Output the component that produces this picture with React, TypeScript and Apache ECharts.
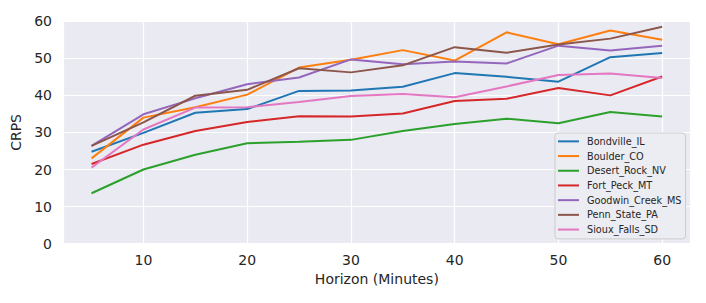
import React, { useEffect, useRef } from "react";
import * as echarts from "echarts";

const horizons = [5, 10, 15, 20, 25, 30, 35, 40, 45, 50, 55, 60];
const seriesNames = [
  "Bondville_IL",
  "Boulder_CO",
  "Desert_Rock_NV",
  "Fort_Peck_MT",
  "Goodwin_Creek_MS",
  "Penn_State_PA",
  "Sioux_Falls_SD",
];
const bondville = [24.8, 29.9, 35.3, 36.3, 41.2, 41.3, 42.3, 46.0, 45.0, 43.7, 50.3, 51.4];
const boulder = [23.0, 34.0, 36.8, 40.2, 47.5, 49.6, 52.2, 49.4, 57.0, 53.8, 57.5, 55.0];
const desertRock = [13.6, 20.0, 24.0, 27.1, 27.5, 28.0, 30.4, 32.3, 33.7, 32.5, 35.5, 34.3];
const fortPeck = [21.5, 26.7, 30.4, 32.8, 34.4, 34.3, 35.1, 38.5, 39.1, 42.0, 40.0, 45.1];
const goodwinCreek = [26.4, 34.9, 39.2, 43.0, 44.8, 49.7, 48.4, 49.1, 48.6, 53.4, 52.1, 53.4];
const pennState = [26.4, 32.7, 39.9, 41.5, 47.3, 46.2, 48.1, 53.0, 51.5, 53.7, 55.3, 58.5];
const siouxFalls = [20.5, 30.8, 36.7, 36.8, 38.2, 39.8, 40.4, 39.5, 42.4, 45.5, 45.9, 44.7];
const allValues = [bondville, boulder, desertRock, fortPeck, goodwinCreek, pennState, siouxFalls];
const colors = ["#1f77b4", "#ff7f0e", "#2ca02c", "#d62728", "#9467bd", "#8c564b", "#e377c2"];

const FONT = "DejaVu Sans";
const TEXT = "#262626";

export default function App() {
  const ref = useRef<HTMLDivElement>(null);
  useEffect(() => {
    if (!ref.current) return;
    const chart = echarts.init(ref.current, null, { renderer: "svg" });
    chart.setOption({
      animation: false,
      color: colors,
      textStyle: { fontFamily: FONT },
      grid: {
        left: 63,
        right: 15.3,
        top: 21.2,
        bottom: 59.3,
        show: true,
        backgroundColor: "#EAEAF2",
        borderWidth: 0,
      },
      xAxis: {
        type: "value",
        min: 2.25,
        max: 62.75,
        splitNumber: 5,
        name: "Horizon (Minutes)",
        nameLocation: "middle",
        nameGap: 26,
        nameTextStyle: { color: TEXT, fontSize: 14, fontFamily: FONT },
        axisLine: { show: false },
        axisTick: { show: false },
        axisLabel: {
          color: TEXT,
          fontSize: 14,
          fontFamily: FONT,
          margin: 9,
          showMinLabel: false,
          showMaxLabel: false,
        },
        splitLine: { show: true, lineStyle: { color: "#ffffff", width: 1.2 } },
      },
      yAxis: {
        type: "value",
        min: 0,
        max: 60,
        interval: 10,
        name: "CRPS",
        nameLocation: "middle",
        nameGap: 30,
        nameTextStyle: { color: TEXT, fontSize: 14, fontFamily: FONT },
        axisLine: { show: false },
        axisTick: { show: false },
        axisLabel: { color: TEXT, fontSize: 14, fontFamily: FONT, margin: 11 },
        splitLine: { show: true, lineStyle: { color: "#ffffff", width: 1.2 } },
      },
      legend: {
        orient: "vertical",
        left: 555,
        top: 133,
        padding: [1, 4, 2, 3],
        itemGap: 0,
        itemWidth: 21,
        itemHeight: 2,
        icon: "rect",
        backgroundColor: "#ececf3",
        borderColor: "#cccccc",
        borderWidth: 1,
        borderRadius: 3,
        textStyle: {
          color: TEXT,
          fontSize: 9.7,
          fontFamily: FONT,
          lineHeight: 14.7,
          padding: [0, 0, 0, 3],
        },
        data: seriesNames,
      },
      series: seriesNames.map((name, i) => ({
        name,
        type: "line",
        data: horizons.map((h, j) => [h, allValues[i][j]]),
        showSymbol: false,
        symbol: "none",
        lineStyle: { width: 2, color: colors[i] },
        itemStyle: { color: colors[i] },
      })),
    });
    return () => chart.dispose();
  }, []);
  return <div ref={ref} style={{ width: 706, height: 303, margin: -8 }} />;
}
